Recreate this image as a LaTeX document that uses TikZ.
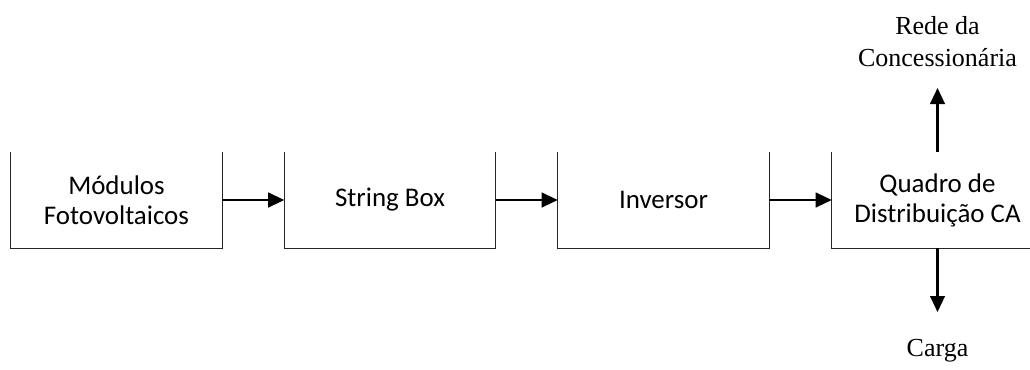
\documentclass[tikz,border=0pt]{standalone}
\usepackage{fontspec}
\setmainfont{Liberation Serif}
\newfontfamily\boxfont{Carlito}
\usetikzlibrary{arrows.meta}

\tikzset{
  blockbox/.style={minimum width=211*0.75pt, minimum height=96*0.75pt,
    inner sep=0pt, align=center,
    font=\boxfont\fontsize{20.2pt}{22.5pt}\selectfont},
  openside/.style={line width=0.75pt, draw=black!85},
  flow/.style={line width=1.6pt, -{Triangle[length=12pt,width=11pt]}},
  outlabel/.style={inner sep=0pt, align=center,
    font=\fontsize{19.5pt}{24pt}\selectfont}
}

\begin{document}
\begin{tikzpicture}[x=0.75pt, y=-0.75pt]
  \useasboundingbox (0,0) rectangle (1030,369);
  \clip (0,0) rectangle (1030,369);

  % process blocks (centres in pixel units)
  \node[blockbox] (b1) at (116.5,200) {Módulos\\Fotovoltaicos};
  \node[blockbox] (b2) at (390,200) {String Box};
  \node[blockbox] (b3) at (663.5,200) {Inversor};
  \node[blockbox] (b4) at (937.5,200) {Quadro de\\Distribuição CA};

  % each block is open at the top
  \foreach \b in {b1,b2,b3,b4}
    \draw[openside] (\b.north west) -- (\b.south west) -- (\b.south east) -- (\b.north east);

  % flow between blocks
  \draw[flow] (b1.east) -- (b2.west);
  \draw[flow] (b2.east) -- (b3.west);
  \draw[flow] (b3.east) -- (b4.west);

  % outputs of the distribution board
  \node[outlabel] (rede) at (937.5,42) {Rede da\\Concessionária};
  \node[outlabel, anchor=base] (carga) at (937.5,356) {Carga};
  \coordinate (uptip) at (937.5,88);
  \coordinate (downtip) at (937.5,312);
  \draw[flow] (b4.north) -- (uptip);
  \draw[flow] (b4.south) -- (downtip);
\end{tikzpicture}
\end{document}
